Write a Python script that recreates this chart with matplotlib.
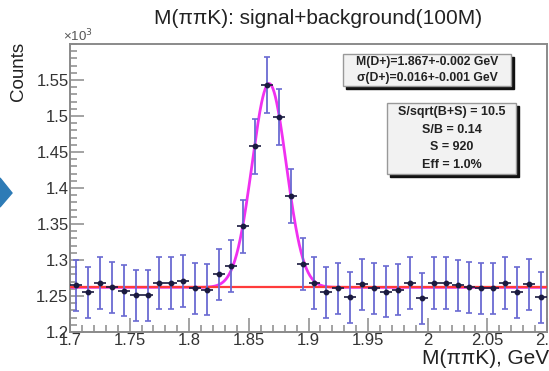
import numpy as np
import matplotlib.pyplot as plt
from matplotlib.patches import Polygon
from matplotlib.ticker import MultipleLocator

plt.rcParams['font.family'] = ['Liberation Sans', 'DejaVu Sans']

# histogram content, units of 10^3 counts, bin width 0.01 GeV
bin_centers = [1.705, 1.715, 1.725, 1.735, 1.745, 1.755, 1.765, 1.775, 1.785, 1.795,
               1.805, 1.815, 1.825, 1.835, 1.845, 1.855, 1.865, 1.875, 1.885, 1.895,
               1.905, 1.915, 1.925, 1.935, 1.945, 1.955, 1.965, 1.975, 1.985, 1.995,
               2.005, 2.015, 2.025, 2.035, 2.045, 2.055, 2.065, 2.075, 2.085, 2.095]
counts = [1.265, 1.255, 1.268, 1.262, 1.257, 1.251, 1.251, 1.268, 1.268, 1.271,
          1.261, 1.259, 1.280, 1.292, 1.347, 1.458, 1.543, 1.499, 1.389, 1.295,
          1.268, 1.255, 1.261, 1.248, 1.266, 1.261, 1.256, 1.259, 1.268, 1.247,
          1.268, 1.268, 1.265, 1.262, 1.261, 1.261, 1.268, 1.255, 1.266, 1.248]

# fit parameters (gaussian + flat background)
fit_mean = 1.867
fit_sigma = 0.0143
fit_amp = 0.283
fit_bkg = 1.262

box1_lines = ["M(D+)=1.867+-0.002 GeV", "\u03c3(D+)=0.016+-0.001 GeV"]
box2_lines = ["S/sqrt(B+S) = 10.5", "S/B = 0.14", "S = 920", "Eff = 1.0%"]

x = np.array(bin_centers)
y = np.array(counts)
yerr = np.sqrt(y * 1000) / 1000.0

fig = plt.figure(figsize=(5.49, 3.71), dpi=100)
ax = fig.add_axes([70 / 549, 1 - 332 / 371, 477 / 549, 288 / 371])

frame_col = '#8a8a8a'
for s in ax.spines.values():
    s.set_color(frame_col)
    s.set_linewidth(1.4)

xs = np.linspace(1.7, 2.1, 800)
sig = fit_bkg + fit_amp * np.exp(-0.5 * ((xs - fit_mean) / fit_sigma) ** 2)
ax.plot(xs, sig, color='#f030f0', lw=2.0, zorder=2)
ax.plot([1.7, 2.1], [fit_bkg, fit_bkg], color='#ff3b3b', lw=1.6, zorder=3)

ax.errorbar(x, y, yerr=yerr, fmt='none', ecolor='#6a6ad2', elinewidth=1.3,
            capsize=2, capthick=1.2, zorder=4)
ax.errorbar(x, y, xerr=0.005, fmt='o', color='#1a1a40', ms=3.2,
            elinewidth=1.2, capsize=0, zorder=5)

ax.set_xlim(1.7, 2.1)
ax.set_ylim(1.2, 1.6)
ax.xaxis.set_major_locator(MultipleLocator(0.05))
ax.xaxis.set_minor_locator(MultipleLocator(0.01))
ax.yaxis.set_major_locator(MultipleLocator(0.05))
ax.yaxis.set_minor_locator(MultipleLocator(0.01))
ax.tick_params(which='both', direction='in', color=frame_col, width=1.1,
               labelsize=12, labelcolor='#333333', top=False, right=False)
ax.tick_params(which='major', length=10)
ax.tick_params(which='minor', length=5)
ax.tick_params(axis='y', pad=1)
ax.tick_params(axis='x', pad=1)

ax.set_xticks([1.7, 1.75, 1.8, 1.85, 1.9, 1.95, 2.0, 2.05, 2.1])
ax.set_xticklabels(['1.7', '1.75', '1.8', '1.85', '1.9', '1.95', '2', '2.05', '2.1'])
ax.set_yticks([1.2, 1.25, 1.3, 1.35, 1.4, 1.45, 1.5, 1.55])
ax.set_yticklabels(['1.2', '1.25', '1.3', '1.35', '1.4', '1.45', '1.5', '1.55'])

fig.text(318 / 549, 1 - 18 / 371, "M(\u03c0\u03c0K): signal+background(100M)",
         ha='center', va='center', fontsize=15, color='#222222')
fig.text(63 / 549, 1 - 36 / 371, "\u00d710$^3$", ha='left', va='center',
         fontsize=9.5, color='#555555')
fig.text(19 / 549, 1 - 42 / 371, "Counts", rotation=90, ha='center', va='top',
         fontsize=13.5, color='#222222')
fig.text(549 / 549, 1 - 359 / 371, "M(\u03c0\u03c0K), GeV", ha='right', va='center',
         fontsize=15, color='#222222')


def stat_box(x0, y0, x1, y1, lines, size):
    # shadow, then box (figure pixel coords, y from top)
    fig.patches.append(plt.Rectangle((x0 / 549 + 0.006, 1 - (y1 + 3) / 371),
                                     (x1 - x0) / 549, (y1 - y0) / 371,
                                     transform=fig.transFigure, color='#111111', zorder=5))
    fig.patches.append(plt.Rectangle((x0 / 549, 1 - y1 / 371),
                                     (x1 - x0) / 549, (y1 - y0) / 371,
                                     transform=fig.transFigure, facecolor='#f2f2f2',
                                     edgecolor='#999999', lw=1.0, zorder=6))
    n = len(lines)
    h = (y1 - y0) / n
    for i, t in enumerate(lines):
        fig.text((x0 + x1) / 2 / 549, 1 - (y0 + h * (i + 0.5)) / 371, t,
                 ha='center', va='center', fontsize=size, fontweight='bold',
                 color='#222222', zorder=7)


stat_box(343, 54, 511, 86, box1_lines, 8.8)
stat_box(387, 103, 516, 174, box2_lines, 9)

arrow = Polygon([[0, 1 - 178 / 371], [12 / 549, 1 - 193 / 371], [0, 1 - 207 / 371]],
                closed=True, transform=fig.transFigure, color='#2d7bb6')
fig.patches.append(arrow)

plt.savefig("out.png", dpi=100)
